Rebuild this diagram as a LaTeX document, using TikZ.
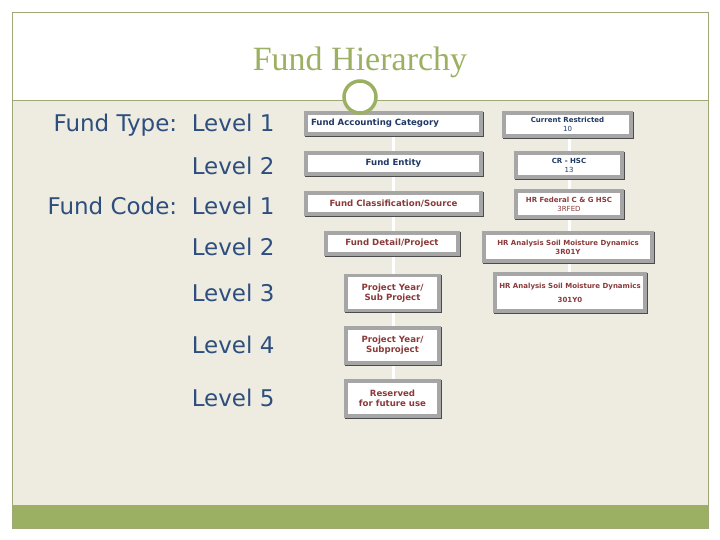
\documentclass[tikz,border=0pt]{standalone}
\usepackage{fontspec}
\setmainfont{DejaVu Sans}
\newfontfamily\titlefont{Liberation Serif}
\definecolor{navy}{HTML}{1F3864}
\definecolor{lvl}{HTML}{2E4E7E}
\definecolor{maroon}{HTML}{8B3A3A}
\definecolor{beige}{HTML}{EEECE1}
\definecolor{olive}{HTML}{9BB062}
\definecolor{frame}{HTML}{A0A878}
\begin{document}
\begin{tikzpicture}[x=1pt,y=-1pt,
  bx/.style={fill=white,draw=gray!70,line width=3.5pt,inner sep=1pt,align=center,font=\fontsize{8.6}{10}\selectfont\bfseries,
    preaction={draw=black!70,line width=3.5pt,transform canvas={shift={(1.2pt,-1.2pt)}}}},
  lv/.style={anchor=east,text=lvl,font=\fontsize{23}{25}\selectfont},
  wire/.style={white,line width=3pt}]
\useasboundingbox (0,0) rectangle (720,540);
\fill[white] (0,0) rectangle (720,540);
\fill[beige] (12,100) rectangle (708,505);
\fill[olive] (12,505) rectangle (708,528);
\draw[frame,line width=0.8pt] (12,12) rectangle (708,528);
\draw[frame,line width=0.8pt] (12,100) -- (708,100);
\node[font=\fontsize{34}{36}\selectfont\titlefont,text=olive] (title) at (360,62) {Fund Hierarchy};
% left labels
\node[lv] (l1) at (278,125) {Fund Type:\ \ Level 1};
\node[lv] (l2) at (278,166) {Level 2};
\node[lv] (l3) at (278,206) {Fund Code:\ \ Level 1};
\node[lv] (l4) at (278,247) {Level 2};
\node[lv] (l5) at (278,293) {Level 3};
\node[lv] (l6) at (278,345) {Level 4};
\node[lv] (l7) at (278,398) {Level 5};
% wires
\coordinate (ta) at (393,124);
\coordinate (tb) at (393,398);
\coordinate (ra) at (569,124);
\coordinate (rb) at (569,292);
\draw[wire] (ta) -- (tb);
\draw[wire] (ra) -- (rb);
% middle column
\node[bx,minimum width=175,minimum height=21,text=navy,align=left,text width=165] (a1) at (393.5,123.5) {Fund Accounting Category};
\node[bx,minimum width=175,minimum height=21,text=navy] (a2) at (393.5,163.5) {Fund Entity};
\node[bx,minimum width=175,minimum height=21,text=maroon] (a3) at (393.5,203.5) {Fund Classification/Source};
\node[bx,minimum width=132,minimum height=21,text=maroon] (a4) at (392,243.5) {Fund Detail/Project};
\node[bx,minimum width=93,minimum height=35,text=maroon] (a5) at (392.5,293) {Project Year/\\Sub Project};
\node[bx,minimum width=93,minimum height=35,text=maroon] (a6) at (392.5,345.5) {Project Year/\\Subproject};
\node[bx,minimum width=93,minimum height=35,text=maroon] (a7) at (392.5,398.5) {Reserved\\for future use};
% right column
\tikzset{rb/.style={bx,font=\fontsize{7}{9}\selectfont\bfseries}}
\node[rb,minimum width=127,minimum height=23,text=navy] (b1) at (567.5,124.5) {Current Restricted\\\mdseries 10};
\node[rb,minimum width=106,minimum height=24,text=navy] (b2) at (569,165) {CR - HSC\\\mdseries 13};
\node[rb,minimum width=106,minimum height=26,text=maroon] (b3) at (569,204) {HR Federal C \& G HSC\\\mdseries 3RFED};
\node[rb,minimum width=168,minimum height=28,text=maroon] (b4) at (568,247) {HR Analysis Soil Moisture Dynamics\\3R01Y};
\node[rb,minimum width=150,minimum height=37,text=maroon,font=\fontsize{7}{14}\selectfont\bfseries] (b5) at (570,292.5) {HR Analysis Soil Moisture Dynamics\\301Y0};
% circle
\draw[olive,line width=3.5pt,fill=white] (360,97) circle (16);
\end{tikzpicture}
\end{document}
